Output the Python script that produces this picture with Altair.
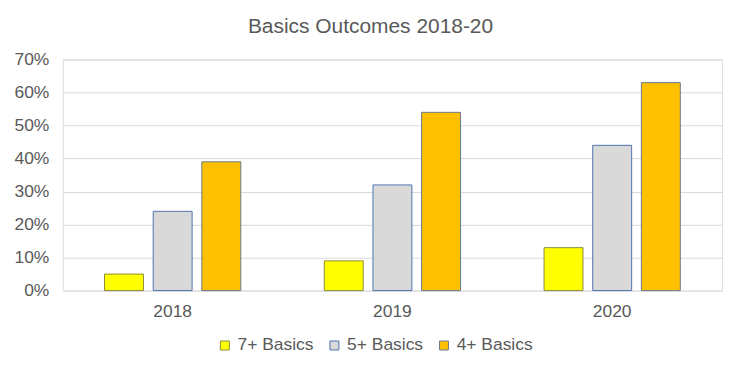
import altair as alt
import pandas as pd

years = ["2018", "2019", "2020"]
series = ["7+ Basics", "5+ Basics", "4+ Basics"]
vals_7 = [0.05, 0.09, 0.13]
vals_5 = [0.24, 0.32, 0.44]
vals_4 = [0.39, 0.54, 0.63]
fills = ["#FFFF00", "#D9D9D9", "#FFC000"]
strokes = ["#8C8C3C", "#4F74B0", "#6A7A8A"]

rows = []
for s, vals in zip(series, [vals_7, vals_5, vals_4]):
    for y, v in zip(years, vals):
        rows.append({"Year": y, "Series": s, "Value": v})
df = pd.DataFrame(rows)

FONT = "Liberation Sans"
TXT = "#595959"
FS = 17.5

chart = alt.Chart(df).mark_bar(strokeWidth=1).encode(
    x=alt.X("Year:N", sort=years, title=None,
            scale=alt.Scale(paddingInner=0.38, paddingOuter=0.19),
            axis=alt.Axis(labelAngle=0, domain=False, ticks=False, labelPadding=12,
                          labelFontSize=FS, labelColor=TXT, labelFont=FONT, grid=False)),
    xOffset=alt.XOffset("Series:N", sort=series,
                        scale=alt.Scale(paddingInner=0.2, paddingOuter=0)),
    y=alt.Y("Value:Q", title=None,
            scale=alt.Scale(domain=[0, 0.7], nice=False),
            axis=alt.Axis(format="%", values=[0, 0.1, 0.2, 0.3, 0.4, 0.5, 0.6, 0.7],
                          domain=False, ticks=False, labelPadding=14,
                          labelFontSize=FS, labelColor=TXT, labelFont=FONT,
                          gridColor="#D9D9D9", gridWidth=1)),
    fill=alt.Fill("Series:N", sort=series,
                  scale=alt.Scale(domain=series, range=fills),
                  legend=alt.Legend(title=None, orient="none", direction="horizontal",
                                    legendX=154, legendY=278, symbolType="square",
                                    symbolSize=81, symbolStrokeWidth=1,
                                    labelFontSize=FS, labelColor=TXT, labelFont=FONT,
                                    columnPadding=12, labelOffset=4)),
    stroke=alt.Stroke("Series:N", sort=series,
                      scale=alt.Scale(domain=series, range=strokes), legend=None),
).properties(
    width=662, height=232,
    title=alt.TitleParams("Basics Outcomes 2018-20", fontSize=21, font=FONT,
                          color=TXT, fontWeight="normal", offset=14, dx=-22),
    autosize=alt.AutoSizeParams(type="none"),
    padding={"left": 55, "top": 51, "right": 15, "bottom": 75},
).configure_view(stroke=None).configure(background="white")

chart.save("out.html", embed_options={"renderer": "svg", "actions": False})
